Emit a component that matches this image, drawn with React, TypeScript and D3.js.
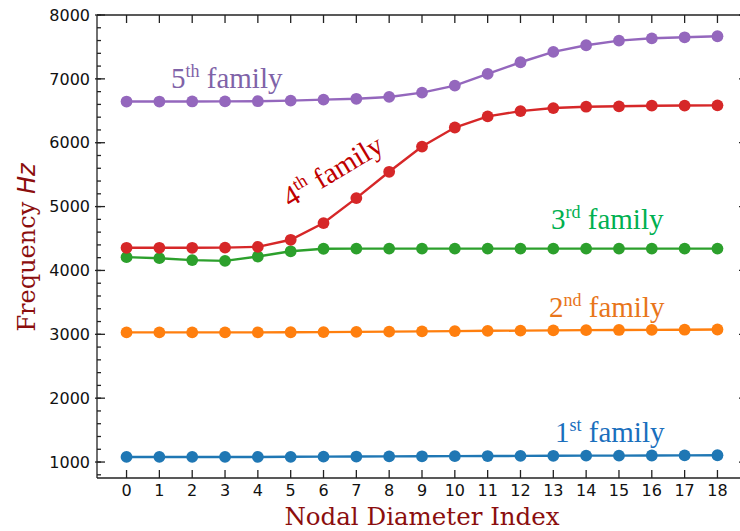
import React from "react";
import * as d3 from "d3";

const nodalIndex = [0, 1, 2, 3, 4, 5, 6, 7, 8, 9, 10, 11, 12, 13, 14, 15, 16, 17, 18];
const family1 = [1080, 1080, 1080, 1080, 1080, 1082, 1084, 1086, 1088, 1090, 1092, 1094, 1096, 1098, 1100, 1100, 1102, 1104, 1106];
const family2 = [3030, 3030, 3030, 3030, 3030, 3032, 3035, 3038, 3042, 3046, 3050, 3055, 3058, 3062, 3065, 3068, 3070, 3072, 3075];
const family3 = [4208, 4192, 4162, 4150, 4218, 4300, 4340, 4342, 4342, 4342, 4342, 4342, 4342, 4342, 4342, 4342, 4342, 4342, 4342];
const family4 = [4355, 4355, 4355, 4358, 4370, 4480, 4742, 5133, 5545, 5940, 6238, 6412, 6495, 6543, 6564, 6570, 6580, 6582, 6585];
const family5 = [6645, 6645, 6646, 6647, 6650, 6660, 6675, 6688, 6717, 6785, 6895, 7077, 7260, 7422, 7526, 7599, 7635, 7651, 7667];
const yTicks = [1000, 2000, 3000, 4000, 5000, 6000, 7000, 8000];
const yMinorTicks = d3.range(800, 8001, 200);

const seriesList = [
  { values: family1, color: "#1f77b4" },
  { values: family2, color: "#ff7f0e" },
  { values: family3, color: "#2ca02c" },
  { values: family4, color: "#d62728" },
  { values: family5, color: "#9467bd" },
];

const labels = [
  { num: "5", sup: "th", color: "#7f63a8", x: 171, y: 88, rot: 0 },
  { num: "4", sup: "th", color: "#c00000", x: 290, y: 208, rot: -31 },
  { num: "3", sup: "rd", color: "#00b050", x: 551, y: 229, rot: 0 },
  { num: "2", sup: "nd", color: "#e8751a", x: 549, y: 317, rot: 0 },
  { num: "1", sup: "st", color: "#1a6fbd", x: 555, y: 442, rot: 0 },
];

export default function App() {
  const W = 740, H = 531;
  const left = 97, right = 747, top = 15, bottom = 478;
  const x = d3.scaleLinear().domain([-0.9, 18.9]).range([left, right]);
  const y = d3.scaleLinear().domain([750, 8000]).range([bottom, top]);
  const line = d3.line<number>().x((_, i) => x(nodalIndex[i])).y((d) => y(d));
  const axisColor = "#222";
  const labelColor = "#8b0e0e";

  return (
    <svg width={W} height={H} style={{ position: "absolute", left: 0, top: 0, background: "#fff" }}>
      <rect x={0} y={0} width={W} height={H} fill="#fff" />
      {seriesList.map((s, si) => (
        <g key={si}>
          <path d={line(s.values) || ""} fill="none" stroke={s.color} strokeWidth={2.4} />
          {s.values.map((v, i) => (
            <circle key={i} cx={x(nodalIndex[i])} cy={y(v)} r={5.9} fill={s.color} />
          ))}
        </g>
      ))}
      <g stroke={axisColor} strokeWidth={1.3} fill="none">
        <line x1={left} x2={left} y1={top} y2={bottom} />
        <line x1={left} x2={right} y1={bottom} y2={bottom} />
        <line x1={left} x2={right} y1={top} y2={top} />
        <line x1={right} x2={right} y1={top} y2={bottom} />
        {nodalIndex.map((t) => (
          <g key={t}>
            <line x1={x(t)} x2={x(t)} y1={bottom} y2={bottom - 8} />
            <line x1={x(t)} x2={x(t)} y1={top} y2={top + 8} />
          </g>
        ))}
        {yMinorTicks.map((t) => (
          <g key={t}>
            <line x1={left} x2={left + 4} y1={y(t)} y2={y(t)} />
            <line x1={right} x2={right - 4} y1={y(t)} y2={y(t)} />
          </g>
        ))}
        {yTicks.map((t) => (
          <g key={t}>
            <line x1={left - 2} x2={left + 8} y1={y(t)} y2={y(t)} />
            <line x1={right + 2} x2={right - 8} y1={y(t)} y2={y(t)} />
          </g>
        ))}
      </g>
      <g fontFamily="DejaVu Sans" fontSize={16} fill="#111">
        {yTicks.map((t) => (
          <text key={t} x={90} y={y(t)} dy="0.36em" textAnchor="end">{t}</text>
        ))}
        {nodalIndex.map((t) => (
          <text key={t} x={x(t)} y={496} textAnchor="middle">{t}</text>
        ))}
      </g>
      <text x={(left + right) / 2} y={525} textAnchor="middle" fontFamily="DejaVu Serif" fontSize={24.5} fill={labelColor}>
        Nodal Diameter Index
      </text>
      <text transform={`translate(35,${(top + bottom) / 2 + 1}) rotate(-90)`} textAnchor="middle" fontFamily="DejaVu Serif" fontSize={24} fill={labelColor}>
        Frequency <tspan fontFamily="DejaVu Sans" fontStyle="italic">Hz</tspan>
      </text>
      {labels.map((l, i) => (
        <text key={i} transform={`translate(${l.x},${l.y}) rotate(${l.rot})`} fontFamily="Liberation Serif" fontSize={29} fill={l.color}>
          {l.num}
          <tspan fontSize={18} dy={-11}>{l.sup}</tspan>
          <tspan dy={11}>{" family"}</tspan>
        </text>
      ))}
    </svg>
  );
}
